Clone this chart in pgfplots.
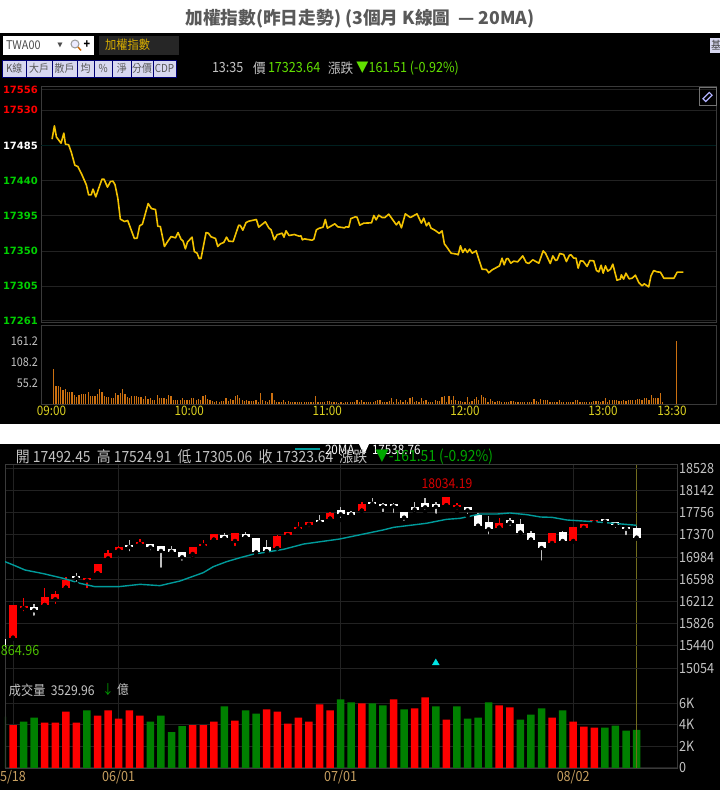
\documentclass[border=0pt]{standalone}
\usepackage{fontspec}
\usepackage{pgfplots}
\usepackage{pgfplotstable}
\pgfplotsset{compat=1.18}
\setmainfont{Noto Sans CJK TC}
\newfontfamily\cond[FakeStretch=0.9]{Noto Sans CJK TC}
\newfontfamily\numb{DejaVu Sans}
\definecolor{gridc}{HTML}{222222}
\definecolor{framec}{HTML}{3A3A3A}
\definecolor{pricec}{HTML}{F2C200}
\definecolor{volc}{HTML}{CC7010}
\definecolor{maline}{HTML}{009A9A}
\definecolor{upg}{HTML}{00D000}
\definecolor{hdg}{HTML}{62E000}
\definecolor{txtg}{HTML}{C4C4C4}
\definecolor{tan}{HTML}{C8A060}
\definecolor{btn}{HTML}{D8D8F0}
\definecolor{sig}{HTML}{00E5E5}

% body and wick of a candle are vertical error bars
\pgfplotsset{
  candle/.style 2 args={only marks, no markers,
    error bars/.cd, y dir=plus, y explicit, error mark=none,
    error bar style={color=#1, line width=#2, line cap=butt}},
  panel/.style={scale only axis, axis line style={framec}, clip=true, scaled ticks=false,
    major tick length=0pt, minor tick length=0pt, grid style={gridc, line width=1pt}},
}

\pgfplotstableread{
i open high low close
0 15585 16158 15565 16158
1 16112 16280 16008 16129
3 16153 16442 16153 16298
4 16251 16402 16135 16338
5 16454 16640 16454 16593
7 16593 16605 16413 16605
8 16703 16866 16703 16866
9 16964 17109 16924 17057
10 17103 17179 17051 17167
12 17219 17306 17208 17248
17 17040 17167 16958 17167
18 17190 17277 17190 17208
19 17289 17382 17289 17382
21 17266 17399 17144 17399
25 17138 17370 17138 17353
26 17370 17416 17312 17416
27 17480 17602 17480 17503
28 17550 17596 17474 17596
30 17654 17776 17654 17753
33 17793 17938 17793 17915
41 17886 18034 17886 18030
42 17851 17932 17776 17898
46 17498 17660 17498 17573
51 17231 17399 17179 17399
53 17266 17503 17254 17503
54 17498 17556 17440 17556
55 17596 17625 17544 17625
}\redK

\pgfplotstableread{
i open high low close
2 16124 16164 15932 16060
6 16651 16709 16518 16634
11 17190 17283 17051 17173
13 17219 17219 17069 17156
14 17184 17184 16767 17092
15 17109 17179 17051 17092
16 17080 17080 16889 16982
20 17364 17399 17260 17318
22 17382 17416 17324 17335
23 17312 17312 17022 17069
24 17167 17277 17086 17086
29 17631 17712 17527 17596
31 17805 17863 17631 17729
32 17758 17793 17671 17735
34 17944 18008 17880 17921
35 17898 17932 17735 17874
36 17898 17932 17718 17880
37 17770 17770 17584 17671
38 17845 17950 17735 17822
39 17932 18019 17776 17851
40 17898 17944 17706 17863
43 17863 17863 17700 17799
44 17718 17747 17492 17532
45 17590 17700 17341 17469
47 17619 17671 17498 17590
48 17556 17648 17411 17411
49 17399 17445 17289 17289
50 17254 17254 16889 17144
52 17416 17440 17225 17266
56 17631 17642 17573 17619
57 17590 17590 17457 17544
58 17503 17503 17335 17492
59 17492 17525 17305 17324
}\whiteK

\begin{document}
\begin{tikzpicture}[x=1pt,y=1pt,
  t/.style={inner sep=0pt, outer sep=0pt, font=\cond\fontsize{14}{14}\selectfont}]
\useasboundingbox (0,0) rectangle (720,790);
\fill[white] (0,0) rectangle (720,790);
\fill[black] (0,366) rectangle (720,757);
\fill[black] (0,0) rectangle (720,346);

% intraday price
\begin{axis}[panel, at={(41pt,468pt)}, anchor=south west, width=675pt, height=236pt,
  xmin=-4.53, xmax=289.2, ymin=17259.3, ymax=17561.1,
  xtick=\empty, ymajorgrids,
  ytick={17261,17305,17350,17395,17440,17485,17530,17556},
  yticklabels={\textcolor{upg}{17261},\textcolor{upg}{17305},\textcolor{upg}{17350},\textcolor{upg}{17395},\textcolor{upg}{17440},\textcolor{white}{17485},\textcolor{red}{17530},\textcolor{red}{17556}},
  yticklabel style={font=\numb\bfseries\fontsize{10}{10}\selectfont, anchor=east, inner sep=0pt, xshift=-3pt}]
\addplot[color=black!75!teal, line width=1pt] coordinates {(-4.53,17485)(289.2,17485)};
\addplot[pricec, line width=1.6pt, line join=round] coordinates {
(0.3,17493.1)(1.3,17510.2)(2.2,17495.7)(4.2,17488)(5.4,17500.8)(6.1,17486.7)(7.5,17485.9)(8.7,17476)(10.2,17459.8)(11.5,17458.1)
(13.1,17448.8)(15.2,17434.7)(16.2,17421.9)(17.3,17421.9)(18.1,17429.2)(19.3,17419.3)(20.6,17430.4)(22,17441.9)(22.9,17441.9)(24.4,17431.7)
(25.7,17439)(26.8,17439.4)(27.7,17434.7)(28.9,17417.6)(30,17390.8)(31.8,17387.8)(33.2,17389.1)(34.7,17377.1)(36.1,17366.1)(37.3,17366.5)
(38.4,17382.3)(39.6,17384.4)(42.1,17410.8)(43.5,17404.4)(45.3,17403.1)(46.3,17381.8)(47.4,17381.4)(49.2,17355.8)(50.3,17361)(52.1,17368.6)
(54,17366.9)(55.1,17373.7)(56.4,17365.2)(57.3,17362.7)(58.3,17352.8)(59.2,17361.4)(61.2,17367.8)(62.2,17349.4)(63.4,17347.3)(64.3,17340.5)
(65.1,17340.5)(67.3,17373.7)(68.3,17372.9)(69.5,17368.2)(71.4,17366.1)(72.4,17355.8)(73.5,17359.2)(75,17361)(76.2,17367.8)(77.2,17362.7)
(79.1,17362.2)(81.5,17383.1)(82.2,17382.7)(83.3,17376.7)(84.7,17386.5)(85.9,17388.2)(89.2,17390.4)(90.2,17380.6)(93.1,17387.4)(94.6,17379.7)
(95.6,17377.1)(97,17364.4)(98.2,17370.8)(100.4,17372.9)(101.2,17367.8)(102.1,17375.9)(103.4,17369.9)(105.7,17371.2)(107.8,17369)(108.6,17369.5)
(109.2,17364.4)(110.1,17365.6)(113.4,17363.9)(114.2,17365.2)(115.3,17377.1)(116.3,17378.9)(118.2,17380.6)(119.2,17390.4)(120.1,17379.3)(123.3,17384.8)
(124.6,17381)(127.5,17379.7)(128.2,17381)(129.4,17380.6)(130.3,17391.6)(132.3,17393.8)(133,17393.3)(134.2,17383.1)(135.9,17385.7)(139.3,17386.1)
(140.3,17395.5)(141.3,17389.9)(142.4,17395.9)(143.9,17392.9)(145.1,17392.9)(146.8,17397.2)(150.1,17383.5)(151.2,17387.8)(152.3,17379.7)(154,17397.6)
(156.2,17392.9)(159.1,17397.6)(161,17385.7)(162,17392.1)(163.2,17382.3)(164.2,17386.5)(165.2,17379.3)(167.1,17376.3)(168.8,17372.5)(170,17375.9)
(171,17359.2)(171.9,17355.8)(173.9,17347.3)(176.5,17346)(177,17345.2)(178,17356.7)(179,17348.2)(180,17352.8)(181,17348.2)(182,17352.4)
(183.1,17347.3)(184.8,17350.3)(185.5,17343.9)(187.4,17326.8)(189.3,17326.4)(190.3,17322.2)(191.8,17326)(195,17331.1)(196.1,17340.9)(197,17332.4)
(198,17340.1)(198.7,17340.5)(199.9,17334.5)(201.2,17337.1)(202.9,17336.2)(205.1,17343.9)(206.6,17335.4)(207.7,17334.1)(209.5,17338.8)(212.1,17334.5)
(214,17350.3)(215,17347.3)(217.1,17334.1)(218.2,17343.9)(219.4,17337.9)(220.1,17338.8)(221.2,17346.9)(222.9,17345.6)(224.1,17336.6)(225.4,17344.7)
(226.1,17345.2)(227.3,17340.9)(228.3,17340.9)(229.2,17328.1)(230.2,17337.5)(231.4,17337.1)(233.1,17330.3)(234.3,17337.9)(236,17337.5)(237.2,17325.1)
(238.2,17323.4)(239.2,17331.9)(240.1,17321.7)(241.1,17331.1)(242.1,17324.3)(243.3,17326.8)(244.3,17333.2)(246.1,17312.8)(247.6,17314.1)(248,17319.6)
(249,17314.1)(250,17321.7)(251.4,17314.5)(252.7,17315.3)(254.1,17319.2)(255.6,17309.8)(257,17305.5)(258,17308.1)(259.9,17304.2)(260.9,17318.3)
(262.1,17325.1)(263.6,17323.4)(265,17323)(266.5,17315.3)(270.9,17315.3)(272.3,17323)(275,17323)
};
\end{axis}

% intraday volume
\begin{axis}[panel, at={(41pt,385.5pt)}, anchor=south west, width=675pt, height=79.5pt,
  xmin=-4.53, xmax=289.2, ymin=0, ymax=202.5,
  xtick={0,60,120,180,240,270},
  xticklabels={09:00,10:00,11:00,12:00,13:00,13:30},
  ytick={55.2,108.2,161.2}, yticklabels={55.2,108.2,161.2},
  xticklabel style={font=\cond\fontsize{13}{13}\selectfont, text=yellow!85!black, inner sep=0pt, yshift=-1pt},
  yticklabel style={font=\cond\fontsize{12}{12}\selectfont, text=txtg, anchor=east, inner sep=0pt, xshift=-3pt}]
\addplot[ycomb, volc, line width=1.2pt] coordinates {
(1,90.0)(2,46.7)(3,46.7)(4,45.0)(5,36.5)(6,39.9)(7,33.1)(8,31.4)(9,33.1)(10,24.6)
(11,19.5)(12,24.6)(13,26.3)(14,25.5)(15,26.3)(16,31.4)(17,22.1)(18,20.4)(19,21.2)(20,26.3)
(21,38.2)(22,31.4)(23,22.9)(24,19.5)(25,18.7)(26,16.1)(27,15.3)(28,28.9)(29,23.8)(30,28.9)
(31,39.9)(32,26.3)(33,19.5)(34,17.0)(35,22.9)(36,22.9)(37,22.9)(38,18.7)(39,18.7)(40,14.4)
(41,22.1)(42,13.6)(43,16.1)(44,11.0)(45,11.9)(46,24.6)(47,16.1)(48,17.0)(49,17.0)(50,14.4)
(51,24.6)(52,22.1)(53,11.0)(54,10.2)(55,11.9)(56,11.9)(57,16.1)(58,11.0)(59,10.2)(60,10.2)
(61,16.1)(62,17.8)(63,11.9)(64,13.6)(65,10.2)(66,20.4)(67,24.6)(68,14.4)(69,12.7)(70,9.3)
(71,6.8)(72,8.5)(73,7.6)(74,9.3)(75,8.5)(76,16.1)(77,9.3)(78,14.4)(79,11.9)(80,20.4)
(81,24.6)(82,16.1)(83,10.2)(84,9.3)(85,11.0)(86,9.3)(87,9.3)(88,9.3)(89,10.2)(90,7.6)
(91,29.7)(92,11.9)(93,9.3)(94,7.6)(95,11.0)(96,29.7)(97,12.7)(98,7.6)(99,7.6)(100,7.6)
(101,11.9)(102,7.6)(103,9.3)(104,5.1)(105,5.1)(106,5.1)(107,6.8)(108,7.6)(109,7.6)(110,7.6)
(111,5.1)(112,5.1)(113,5.1)(114,5.1)(115,20.4)(116,7.6)(117,6.8)(118,5.9)(119,7.6)(120,9.3)
(121,9.3)(122,5.1)(123,7.6)(124,5.1)(125,4.2)(126,5.1)(127,4.2)(128,5.1)(129,5.1)(130,5.1)
(131,5.1)(132,5.1)(133,10.2)(134,5.9)(135,11.9)(136,7.6)(137,5.1)(138,5.1)(139,7.6)(140,7.6)
(141,9.3)(142,11.0)(143,11.9)(144,7.6)(145,5.1)(146,5.1)(147,9.3)(148,15.3)(149,7.6)(150,14.4)
(151,7.6)(152,11.0)(153,7.6)(154,11.0)(155,7.6)(156,17.8)(157,18.7)(158,5.9)(159,9.3)(160,7.6)
(161,17.0)(162,9.3)(163,11.9)(164,7.6)(165,5.9)(166,5.1)(167,11.9)(168,9.3)(169,8.5)(170,19.5)
(171,22.9)(172,7.6)(173,20.4)(174,11.9)(175,22.1)(176,11.9)(177,9.3)(178,9.3)(179,7.6)(180,7.6)
(181,18.7)(182,7.6)(183,9.3)(184,13.6)(185,18.7)(186,11.9)(187,24.6)(188,18.7)(189,16.1)(190,7.6)
(191,13.6)(192,9.3)(193,7.6)(194,9.3)(195,9.3)(196,6.8)(197,5.9)(198,7.6)(199,7.6)(200,8.5)
(201,9.3)(202,7.6)(203,5.9)(204,7.6)(205,6.8)(206,7.6)(207,7.6)(208,7.6)(209,5.9)(210,14.4)
(211,8.5)(212,6.8)(213,14.4)(214,10.2)(215,11.9)(216,11.9)(217,7.6)(218,7.6)(219,7.6)(220,7.6)
(221,11.0)(222,7.6)(223,5.9)(224,5.9)(225,7.6)(226,7.6)(227,7.6)(228,11.9)(229,11.9)(230,7.6)
(231,5.9)(232,5.9)(233,6.8)(234,5.9)(235,7.6)(236,9.3)(237,9.3)(238,9.3)(239,7.6)(240,9.3)
(241,16.1)(242,7.6)(243,11.0)(244,11.0)(245,12.7)(246,10.2)(247,9.3)(248,9.3)(249,11.0)(250,9.3)
(251,10.2)(252,11.9)(253,11.9)(254,11.9)(255,13.6)(256,14.4)(257,12.7)(258,16.1)(259,17.8)(260,11.0)
(261,24.6)(262,17.8)(263,17.8)(264,16.1)(265,29.7)(266,5.1)(272,161.2)
};
\end{axis}

% daily volume, under the candles
\begin{axis}[panel, at={(5pt,22pt)}, anchor=south west, width=672pt, height=304pt,
  xmin=-0.757, xmax=62.82, ymin=0, ymax=28148,
  xmajorgrids, ymajorgrids, yticklabel pos=right,
  ytick={0,2000,4000,6000}, yticklabels={0,2K,4K,6K},
  xtick={0,10,31,53}, xticklabels={5/18,06/01,07/01,08/02},
  xticklabel style={font=\cond\fontsize{14}{14}\selectfont, text=tan, inner sep=0pt, yshift=-2pt},
  yticklabel style={font=\cond\fontsize{14}{14}\selectfont, text=txtg, anchor=west, inner sep=0pt, xshift=2pt}]
\addplot[ybar, bar width=7.5pt, bar shift=0pt, fill=red, draw=none] coordinates {
(0,3981)(3,4197)(4,4197)(5,5215)(6,4197)(8,4845)(9,5339)(10,4567)(11,5339)(12,4845)
(17,3981)(18,3981)(19,4290)(21,4382)(24,5431)(25,5215)(26,4104)(27,4660)(28,4290)(29,5894)
(30,5339)(33,5987)(36,6357)(38,5524)(39,6542)(41,4475)(46,5802)(47,5616)(51,4660)(53,4290)
(54,3827)(55,3734)};
\addplot[ybar, bar width=7.5pt, bar shift=0pt, fill=green!50!black, draw=none] coordinates {
(-1,4752)(1,4290)(2,4660)(7,5339)(13,4290)(14,4845)(15,3333)(16,3888)(20,5709)(22,5339)
(23,5030)(31,6357)(32,6079)(34,5987)(35,5802)(37,5431)(40,5709)(42,5709)(43,4567)(44,4660)
(45,6079)(48,4475)(49,4938)(50,5524)(52,5339)(56,3734)(57,3919)(58,3456)(59,3530)};
\addplot[color=olive!75!black, line width=1pt] coordinates {(59,0)(59,28148)};
\end{axis}

% daily candles; a flat body still shows over 2 px high
\begin{axis}[panel, at={(5pt,22pt)}, anchor=south west, width=672pt, height=304pt,
  xmin=-0.757, xmax=62.82, ymin=13317.8, ymax=18604.8,
  xtick=\empty, ymajorgrids, yticklabel pos=right,
  ytick={15054,15440,15826,16212,16598,16984,17370,17756,18142,18528},
  yticklabels={15054,15440,15826,16212,16598,16984,17370,17756,18142,18528},
  yticklabel style={font=\cond\fontsize{14}{14}\selectfont, text=txtg, anchor=west, inner sep=0pt, xshift=2pt}]
\addplot[candle={red}{1.4pt}] table[x=i, y=low, y error plus expr=\thisrow{high}-\thisrow{low}] {\redK};
\addplot[candle={red}{8pt}] table[x=i, y expr={(\thisrow{open}+\thisrow{close})/2-max(\thisrow{close}-\thisrow{open},40)/2}, y error plus expr={max(\thisrow{close}-\thisrow{open},40)}] {\redK};
\addplot[candle={black!25}{1.5pt}] table[x=i, y=low, y error plus expr=\thisrow{high}-\thisrow{low}] {\whiteK};
\addplot[candle={white}{8pt}] table[x=i, y expr={(\thisrow{open}+\thisrow{close})/2-max(\thisrow{open}-\thisrow{close},40)/2}, y error plus expr={max(\thisrow{open}-\thisrow{close},40)}] {\whiteK};
\addplot[maline, line width=1.4pt] coordinates {
(-0.76,16906)(0.03,16848)(1.14,16761)(2.87,16698)(4.76,16616)(6.34,16529)(7.76,16471)(9.97,16471)(12.02,16512)(13.9,16489)
(15.8,16570)(18,16715)(18.95,16819)(20.2,16906)(21.5,16976)(22.7,17034)(25.6,17121)(27.5,17213)(30.9,17300)(35,17457)
(36,17503)(39.1,17573)(41,17642)(42.3,17660)(44.2,17735)(45.8,17735)(47,17753)(48.6,17724)(49.9,17683)(51,17677)
(52.4,17631)(54.9,17602)(56.8,17573)(59,17539)
};
% up-arrow signal and the stub of the lowest wick
\addplot[only marks, mark=triangle*, mark size=4pt, color=sig] coordinates {(40,15144)};
\addplot[white, line width=1pt] coordinates {(-0.7,15561)(-0.7,15422)};
\end{axis}

% title and toolbar
\node[inner sep=0pt, text=black!65, font=\bfseries\fontsize{17.7}{18}\selectfont] at (360,771) {加權指數(昨日走勢) (3個月 K線圖\ \ — 20MA)};
\fill[white] (2.5,735) rectangle (94,754);
\node[t, anchor=west, text=black!70, font=\cond\fontsize{12}{12}\selectfont] at (6,745) {TWA00};
\node[t, text=black!70, font=\cond\fontsize{6}{6}\selectfont] at (60,745) {▼};
\draw[black!40, line width=1pt, fill=blue!8] (75,746) circle (4);
\draw[orange!80!black, line width=1.4pt] (78,743) -- (81,739.5);
\node[t, text=black, font=\cond\bfseries\fontsize{12}{12}\selectfont] at (87,745) {+};
\fill[black!85] (99,735) rectangle (179,754);
\node[t, anchor=west, text=pricec!90!black, font=\cond\fontsize{12.5}{12.5}\selectfont] at (105,745) {加權指數};
\fill[btn] (710,737) rectangle (720,752);
\node[t, anchor=west, text=black!75, font=\cond\fontsize{11}{11}\selectfont] at (711,745) {基};
\foreach \a/\b/\s in {2.5/26/K線, 26/52/大戶, 52/77/散戶, 77/94/均, 94/112.5/\%, 112.5/131/淨, 131/153/分價, 153/176/CDP} {
  \filldraw[fill=btn, draw=blue!45!black, line width=0.7pt] (\a,713) rectangle (\b,730);
  \node[t, text=black!65, font=\cond\fontsize{11}{11}\selectfont] at ({(\a+\b)/2},721.5) {\s};
}
\node[t, anchor=west, text=txtg] at (212,722) {13:35};
\node[t, anchor=west, text=txtg] at (253,722) {價};
\node[t, anchor=west, text=hdg] at (268,722) {17323.64};
\node[t, anchor=west, text=txtg] at (328,722) {漲跌};
\node[t, anchor=west, text=hdg] at (356,722) {▼161.51 (-0.92\%)};
% link icon
\draw[black!55, line width=1pt] (699,684) rectangle (716,702);
\draw[blue!30!white, line width=1.2pt, rotate around={45:(707.5,693)}] (703,691) rectangle (712,695);

% daily headers
\draw[maline, line width=1.2pt] (295,341) -- (320,341);
\node[t, anchor=west, text=white, font=\cond\fontsize{13}{13}\selectfont] at (325,340.5) {20MA};
\fill[white] (359,346) -- (369,346) -- (364,335) -- cycle;
\node[t, anchor=west, text=white, font=\cond\fontsize{13}{13}\selectfont] at (372,340.5) {17538.76};
\node[t, anchor=west, text=txtg, font=\cond\fontsize{15.4}{15.4}\selectfont] at (16,333.5) {開 17492.45\ \ 高 17524.91\ \ 低 17305.06\ \ 收 17323.64\ \ 漲跌};
\node[t, anchor=west, text=upg!80!black, font=\cond\fontsize{15.4}{15.4}\selectfont] at (375,333.5) {▼-161.51 (-0.92\%)};
\node[t, text=red!85!black, font=\cond\fontsize{13.5}{13.5}\selectfont] at (447,306) {18034.19};
\node[t, anchor=west, text=green!60!yellow!75!black, font=\cond\fontsize{14}{14}\selectfont] at (1,139) {864.96};
\node[t, anchor=west, text=txtg, font=\cond\fontsize{13.5}{13.5}\selectfont] at (9,100) {成交量\ \ 3529.96};
\node[t, anchor=west, text=green!60!black, font=\cond\fontsize{13}{13}\selectfont] at (102,100) {↓};
\node[t, anchor=west, text=txtg, font=\cond\fontsize{13}{13}\selectfont] at (117,100) {億};
\end{tikzpicture}
\end{document}
